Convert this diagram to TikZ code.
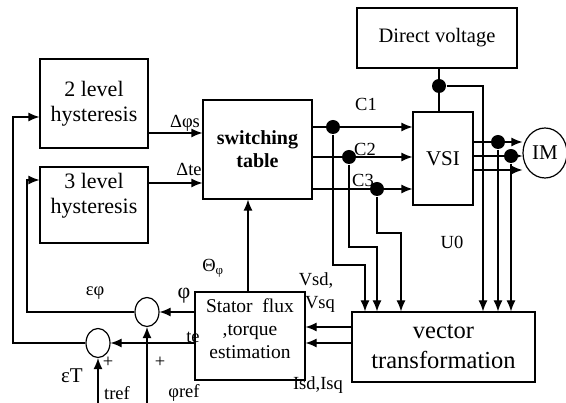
\documentclass[tikz,border=0pt]{standalone}
\usepackage{fontspec}
\setmainfont{Liberation Serif}
\usetikzlibrary{arrows.meta,shapes.geometric}

\begin{document}
\begin{tikzpicture}[x=1pt, y=-1pt, line width=1.2pt, >={Latex[length=11pt,width=9pt]},
  blk/.style={draw, rectangle, align=center, inner sep=2pt},
  tap/.style={circle, fill, inner sep=0pt, minimum size=14pt},
  sumpt/.style={draw, ellipse, minimum width=24pt, minimum height=29pt, inner sep=0pt},
  lbl/.style={font=\fontsize{18.5}{21}\selectfont, inner sep=1pt}]

  \fontsize{22}{25}\selectfont
  \useasboundingbox (0,0) rectangle (566,403);

  %% blocks
  \node[blk, minimum width=108, minimum height=89] (hyst2) at (94,103.5) {2 level\\hysteresis};
  \node[blk, minimum width=108, minimum height=76] (hyst3) at (94,205) {};
  \node[align=center] (hyst3txt) at (94,196) {3 level\\hysteresis};
  \node[blk, minimum width=109, minimum height=99, font=\fontsize{20}{23}\selectfont\bfseries] (swtab) at (257.5,149.5) {switching\\table};
  \node[blk, minimum width=160, minimum height=60, font=\fontsize{20.5}{24}\selectfont] (dcv) at (437,38) {Direct voltage};
  \node[blk, minimum width=60, minimum height=93, font=\fontsize{21}{24}\selectfont] (vsi) at (443,158.5) {VSI};
  \node[draw, ellipse, minimum width=44, minimum height=50, inner sep=0pt, font=\fontsize{21}{24}\selectfont] (im) at (545,153) {IM};
  \node[blk, minimum width=110, minimum height=88] (est) at (250,336) {};
  \node[align=center, font=\fontsize{19.5}{23}\selectfont] (esttxt) at (250,329) {Stator~~flux\\,torque\\estimation};
  \node[blk, minimum width=183, minimum height=70, font=\fontsize{24.5}{30}\selectfont] (vtr) at (443.5,347) {vector\\transformation};

  \node[sumpt] (sumphi) at (147,312) {};
  \node[sumpt] (sumte) at (98,343) {};

  \node[tap] (t1) at (333,127) {};
  \node[tap] (t2) at (349,157) {};
  \node[tap] (t3) at (377,189) {};
  \node[tap] (u0) at (439,86) {};
  \node[tap] (o1) at (498,142) {};
  \node[tap] (o2) at (511,156) {};

  \coordinate (phiref) at (147,403);
  \coordinate (tref) at (98,403);

  %% hysteresis -> table
  \draw[->] (hyst2.east |- 0,133) -- (swtab.west |- 0,133); %% flux
  \draw[->] (hyst3.east |- 0,183) -- (swtab.west |- 0,183); %% torque

  %% table -> VSI
  \draw[->] (swtab.east |- t1) -- (vsi.west |- t1);
  \draw[->] (swtab.east |- t2) -- (vsi.west |- t2);
  \draw[->] (swtab.east |- t3) -- (vsi.west |- t3);

  \draw[->] (t1) |- (365,265) -- (vtr.north -| 365,0);
  \draw[->] (t2) |- (377,247) -- (vtr.north -| 377,0);
  \draw[->] (t3) |- (401,233) -- (vtr.north -| 401,0);

  %% DC link
  \draw (dcv.south -| u0) -- (vsi.north -| u0);
  \draw[->] (u0) -| (vtr.north -| 483,0);

  %% VSI -> IM
  \draw[->] (vsi.east |- o1) -- (im.west |- o1);
  \draw[->] (vsi.east |- o2) -- (im.west |- o2);
  \draw[->] (vsi.east |- 0,170) -- (im.west |- 0,170);
  \draw[->] (o1) -- (vtr.north -| o1);
  \draw[->] (o2) -- (vtr.north -| o2);

  %% transformation -> estimation
  \draw[->] (vtr.west |- 0,327) -- (est.east |- 0,327);
  \draw[->] (vtr.west |- 0,343) -- (est.east |- 0,343);

  %% estimation -> table, comparators
  \draw[->] (est.north -| 248,0) -- (swtab.south -| 248,0);
  \draw[->] (est.west |- sumphi) -- (sumphi);
  \draw[->] (est.west |- sumte) -- (sumte);
  \draw[->] (phiref) -- (sumphi);
  \draw[->] (tref) -- (sumte);

  %% errors -> hysteresis
  \draw[->] (sumphi) -| (27,180) -- (hyst3.west |- 0,180);
  \draw[->] (sumte) -| (13,117) -- (hyst2.west |- 0,117);

  %% labels
  \node[lbl] (ldphi) at (185,123) {Δφs};
  \node[lbl] (ldte) at (189,169) {Δte};
  \node[lbl] (lc1) at (366,104) {C1};
  \node[lbl] (lc2) at (365,149) {C2};
  \node[lbl] (lc3) at (363,180) {C3};
  \node[lbl] (lu0) at (452,242) {U0};
  \node[lbl] (lvsd) at (316,281) {Vsd,};
  \node[lbl] (lvsq) at (320,304) {Vsq};
  \node[lbl] (lisd) at (318,385) {Isd,Isq};
  \node[lbl] (ltheta) at (213,268) {Θ\textsubscript{φ}};
  \node[lbl, font=\fontsize{22}{24}\selectfont] (lphi) at (184,296) {φ};
  \node[lbl] (lte) at (193,337) {te};
  \node[lbl] (leps1) at (95,293) {εφ};
  \node[lbl, font=\fontsize{21}{24}\selectfont] (leps2) at (72,376) {εT};
  \node[lbl] (lp1) at (160,362) {+};
  \node[lbl] (lp2) at (108,362) {+};
  \node[lbl] (ltref) at (117,393) {tref};
  \node[lbl] (lphiref) at (184,393) {φref};
\end{tikzpicture}
\end{document}
